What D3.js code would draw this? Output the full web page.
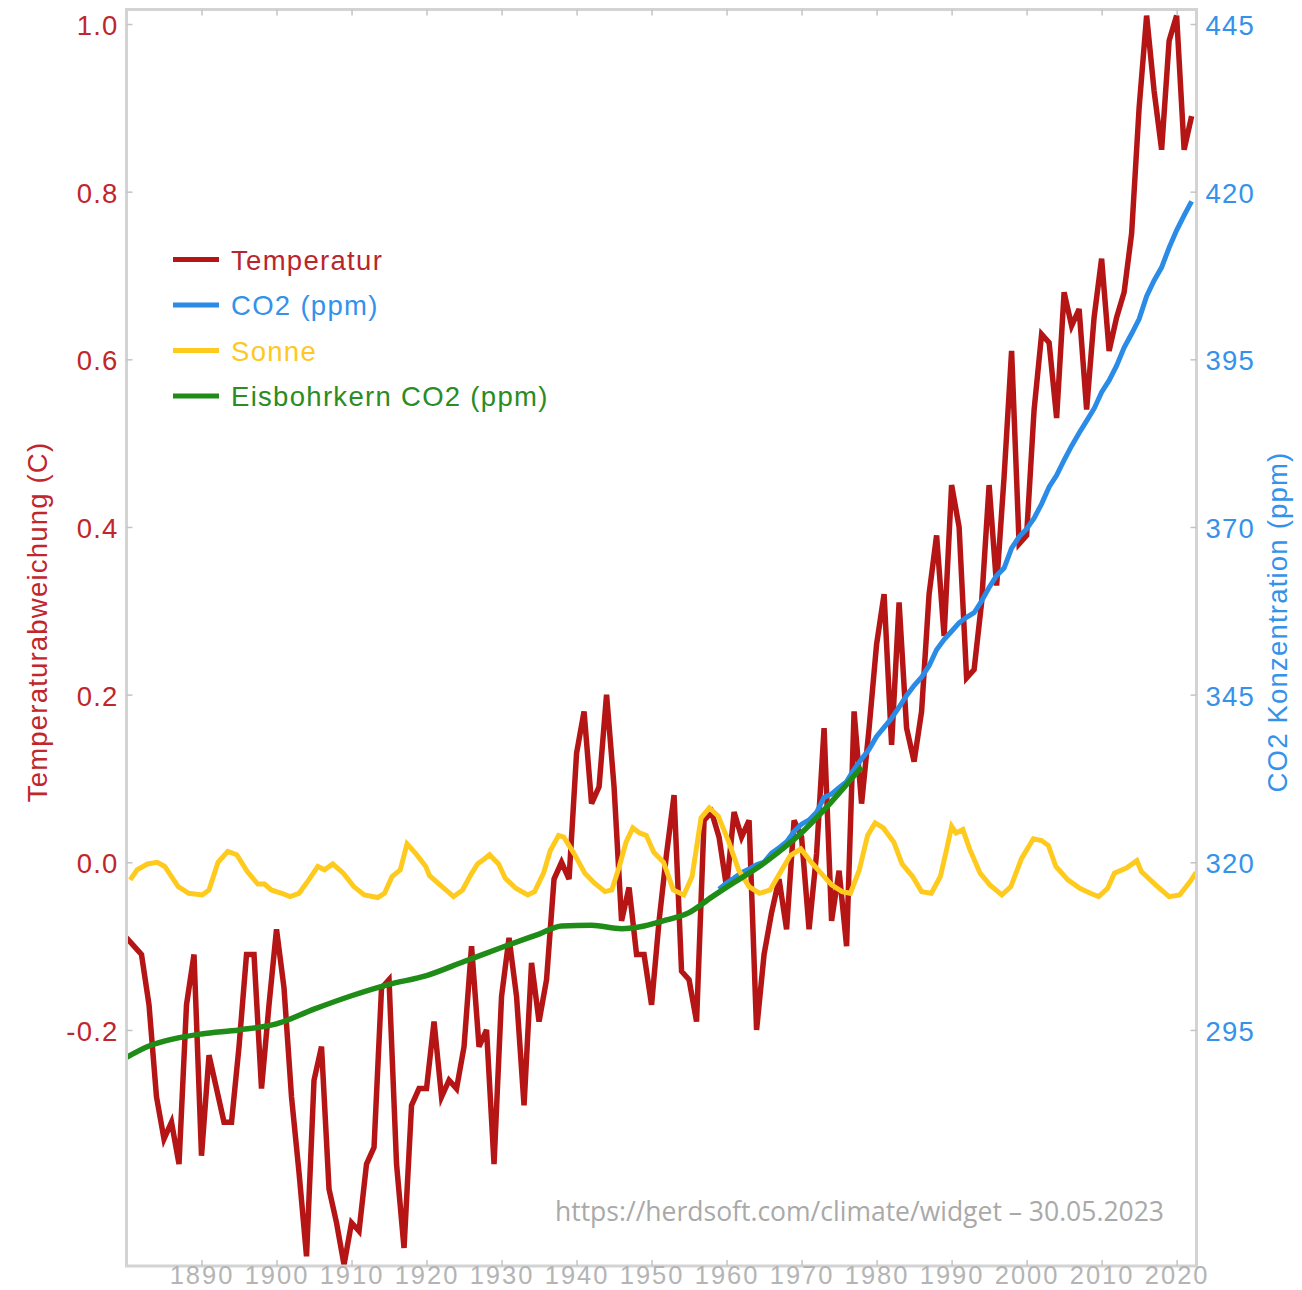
<!DOCTYPE html>
<html>
<head>
<meta charset="utf-8">
<script src="https://cdn.jsdelivr.net/npm/d3@7"></script>
<style>
  html, body { margin: 0; padding: 0; background: #fff; }
  svg { display: block; }
  text { font-family: "Liberation Sans", Arial, Helvetica, sans-serif; }
</style>
</head>
<body>
<svg id="chart" width="1302" height="1290"></svg>
<script>
// ---------------- DATA ----------------
const tempStartYear = 1880;
const temperature = [
  -0.09,-0.10,-0.11,-0.17,-0.28,-0.33,-0.31,-0.36,-0.17,-0.11,
  -0.35,-0.23,-0.27,-0.31,-0.31,-0.22,-0.11,-0.11,-0.27,-0.17,
  -0.08,-0.15,-0.28,-0.37,-0.47,-0.26,-0.22,-0.39,-0.43,-0.48,
  -0.43,-0.44,-0.36,-0.34,-0.15,-0.14,-0.36,-0.46,-0.29,-0.27,
  -0.27,-0.19,-0.28,-0.26,-0.27,-0.22,-0.10,-0.22,-0.20,-0.36,
  -0.16,-0.09,-0.16,-0.29,-0.12,-0.19,-0.14,-0.02,-0.00,-0.02,
   0.13, 0.18, 0.07, 0.09, 0.20, 0.09,-0.07,-0.03,-0.11,-0.11,
  -0.17,-0.07, 0.01, 0.08,-0.13,-0.14,-0.19, 0.05, 0.06, 0.03,
  -0.03, 0.06, 0.03, 0.05,-0.20,-0.11,-0.06,-0.02,-0.08, 0.05,
   0.03,-0.08, 0.01, 0.16,-0.07,-0.01,-0.10, 0.18, 0.07, 0.16,
   0.26, 0.32, 0.14, 0.31, 0.16, 0.12, 0.18, 0.32, 0.39, 0.27,
   0.45, 0.40, 0.22, 0.23, 0.31, 0.45, 0.33, 0.46, 0.61, 0.38,
   0.39, 0.54, 0.63, 0.62, 0.53, 0.68, 0.64, 0.66, 0.54, 0.65,
   0.72, 0.61, 0.65, 0.68, 0.75, 0.90, 1.01, 0.92, 0.85, 0.98,
   1.01, 0.85, 0.89
];

const co2StartYear = 1959;
const co2 = [
  315.98,316.91,317.64,318.45,318.99,319.62,320.04,321.37,322.18,323.05,
  324.62,325.68,326.32,327.46,329.68,330.19,331.12,332.03,333.84,335.41,
  336.84,338.76,340.12,341.48,343.15,344.87,346.35,347.61,349.31,351.69,
  353.20,354.45,355.70,356.54,357.21,358.96,360.97,362.74,363.88,366.84,
  368.54,369.71,371.32,373.45,375.98,377.70,379.98,382.09,384.02,385.83,
  387.64,390.10,391.85,394.06,396.74,398.81,401.01,404.41,406.76,408.72,
  411.66,414.24,416.45,418.56
];

const iceYears = [1880,1883,1886,1890,1895,1900,1905,1910,1915,1920,1925,1930,1935,1938,1942,1946,1949,1952,1955,1958,1961,1964,1967,1970,1973,1976,1978];
const iceCO2   = [290.9,292.6,293.6,294.4,295.0,295.9,298.1,300.1,301.8,303.1,305.2,307.3,309.3,310.5,310.6,310.1,310.5,311.4,312.5,314.8,317.0,319.1,321.6,324.4,327.8,331.6,334.2];

// Sun activity, in the units of the left axis (no own axis)
const sunYears = [1880.5,1881.4,1882.8,1884.1,1885.1,1886.0,1886.9,1888.3,1890.1,1891.0,1892.2,1893.5,1894.7,1896.1,1897.5,1898.4,1899.3,1900.7,1901.8,1903.0,
  1904.3,1905.5,1906.4,1907.5,1908.9,1910.3,1911.7,1913.5,1914.4,1915.4,1916.5,1917.4,1918.6,1919.9,1920.4,1921.8,1923.6,1924.8,1925.9,1926.8,
  1927.7,1928.4,1929.6,1930.5,1931.9,1933.5,1934.4,1935.6,1936.5,1937.6,1938.3,1939.7,1941.1,1942.4,1943.8,1944.7,1945.7,1946.6,1947.5,1948.4,
  1949.3,1950.3,1951.6,1952.9,1954.3,1955.4,1956.6,1957.7,1958.9,1960.3,1961.6,1963.0,1964.4,1965.8,1967.1,1968.5,1969.9,1971.3,1972.6,1974.0,
  1975.4,1976.5,1977.7,1978.8,1979.8,1980.9,1982.3,1983.4,1984.8,1986.0,1987.3,1988.5,1989.4,1990.0,1990.6,1991.5,1992.4,1993.8,1995.1,1996.7,
  1997.9,1999.3,2000.9,2002.0,2002.9,2003.9,2005.5,2007.1,2008.5,2009.6,2010.8,2011.7,2013.3,2014.7,2015.3,2017.2,2019.0,2020.4,2021.8,2022.6];
const sunValues = [-0.021,-0.009,-0.002,0.000,-0.005,-0.017,-0.029,-0.037,-0.039,-0.033,0.000,0.013,0.009,-0.011,-0.026,-0.026,-0.033,-0.037,-0.041,-0.037,
  -0.021,-0.005,-0.009,-0.002,-0.013,-0.029,-0.039,-0.042,-0.037,-0.017,-0.009,0.022,0.010,-0.005,-0.016,-0.027,-0.041,-0.033,-0.015,-0.002,
  0.004,0.009,-0.002,-0.019,-0.031,-0.039,-0.035,-0.013,0.014,0.032,0.030,0.010,-0.013,-0.025,-0.035,-0.033,-0.005,0.024,0.041,0.035,
  0.032,0.012,0.000,-0.033,-0.039,-0.017,0.053,0.065,0.055,0.024,-0.009,-0.029,-0.037,-0.033,-0.013,0.008,0.016,0.000,-0.013,-0.027,
  -0.035,-0.037,-0.009,0.032,0.047,0.041,0.024,-0.002,-0.017,-0.035,-0.037,-0.017,0.018,0.043,0.035,0.039,0.016,-0.013,-0.027,-0.039,
  -0.029,0.004,0.028,0.026,0.020,-0.005,-0.021,-0.031,-0.037,-0.041,-0.031,-0.013,-0.007,0.002,-0.011,-0.027,-0.041,-0.039,-0.023,-0.012];

const leftTicks  = [-0.2, 0.0, 0.2, 0.4, 0.6, 0.8, 1.0];
const rightTicks = [295, 320, 345, 370, 395, 420, 445];
const yearTicks  = [1890,1900,1910,1920,1930,1940,1950,1960,1970,1980,1990,2000,2010,2020];

const legendLabels = ["Temperatur", "CO2 (ppm)", "Sonne", "Eisbohrkern CO2 (ppm)"];
const legendColors = ["#b51515", "#2a8ce6", "#ffca1e", "#1f8c17"];
const legendTextColors = ["#b8262b", "#3392ea", "#ffc81e", "#2a8c22"];

// ---------------- LAYOUT ----------------
const plot = { left: 126.5, right: 1196.5, top: 9.5, bottom: 1266 };
const FONT = 27.5;

const svg = d3.select("#chart");

const x = d3.scaleLinear().domain([1880, 2022.65]).range([plot.left, plot.right]);
const yL = d3.scaleLinear().domain([-0.4816, 1.0173]).range([plot.bottom, plot.top]);
const yR = d3.scaleLinear().domain([320 - 0.4816 * 125, 320 + 1.0173 * 125]).range([plot.bottom, plot.top]);

svg.append("defs").append("clipPath").attr("id", "clip")
  .append("rect")
  .attr("x", plot.left).attr("y", plot.top)
  .attr("width", plot.right - plot.left).attr("height", plot.bottom - plot.top);

// watermark
svg.append("text")
  .attr("x", 1164).attr("y", 1221)
  .attr("text-anchor", "end")
  .style("font-family", "'Open Sans', sans-serif")
  .style("font-size", "26.5px")
  .attr("fill", "#a9a9a9")
  .text("https://herdsoft.com/climate/widget – 30.05.2023");

// lines
const lines = svg.append("g").attr("clip-path", "url(#clip)");
const lineGen = d3.line().x(d => x(d[0])).y(d => d[1]);

const tempData = temperature.map((v, i) => [tempStartYear + i, yL(v)]);
const co2Data = co2.map((v, i) => [co2StartYear + i, yR(v)]);
const iceData = iceYears.map((yr, i) => [yr, yR(iceCO2[i])]);
const sunData = sunYears.map((yr, i) => [yr, yL(sunValues[i])]);

function drawLine(data, color, width, curve) {
  lines.append("path")
    .datum(data)
    .attr("fill", "none")
    .attr("stroke", color)
    .attr("stroke-width", width)
    .attr("stroke-linejoin", "miter")
    .attr("d", lineGen.curve(curve || d3.curveLinear));
}
drawLine(tempData, legendColors[0], 5.5);
drawLine(co2Data, legendColors[1], 5);
drawLine(sunData, legendColors[2], 5);
drawLine(iceData, legendColors[3], 5.5, d3.curveMonotoneX);

// frame
svg.append("rect")
  .attr("x", plot.left).attr("y", plot.top)
  .attr("width", plot.right - plot.left).attr("height", plot.bottom - plot.top)
  .attr("fill", "none").attr("stroke", "#d3d3d3").attr("stroke-width", 3);

// axes
function styleAxis(g, color, size, spacing) {
  g.select(".domain").remove();
  g.selectAll(".tick line").attr("stroke", "#c4c4c4").attr("stroke-width", 1.5);
  g.selectAll(".tick text")
    .attr("fill", color)
    .style("font-size", (size || FONT) + "px")
    .style("letter-spacing", (spacing || 1.2) + "px");
}

svg.append("g")
  .attr("transform", `translate(${plot.left},0)`)
  .call(d3.axisLeft(yL).tickValues(leftTicks).tickFormat(d => d.toFixed(1))
        .tickSizeInner(-6).tickSizeOuter(0).tickPadding(8))
  .call(g => styleAxis(g, "#c0262c"))
  .call(g => g.selectAll(".tick text").attr("dy", "0.38em"));

svg.append("g")
  .attr("transform", `translate(${plot.right},0)`)
  .call(d3.axisRight(yR).tickValues(rightTicks).tickFormat(d3.format("d"))
        .tickSizeInner(-6).tickSizeOuter(0).tickPadding(9))
  .call(g => styleAxis(g, "#3592ea"))
  .call(g => g.selectAll(".tick text").attr("dy", "0.38em"));

svg.append("g")
  .attr("transform", `translate(0,${plot.bottom})`)
  .call(d3.axisBottom(x).tickValues(yearTicks).tickFormat(d3.format("d"))
        .tickSizeInner(-6).tickSizeOuter(0).tickPadding(0))
  .call(g => styleAxis(g, "#b4b4b4", 25.5, 2));

svg.append("g")
  .attr("transform", `translate(0,${plot.top})`)
  .call(d3.axisTop(x).tickValues(yearTicks).tickFormat("")
        .tickSizeInner(-6).tickSizeOuter(0))
  .call(g => styleAxis(g, "#b4b4b4"));

// axis titles
svg.append("text")
  .attr("transform", "translate(47,622) rotate(-90)")
  .attr("text-anchor", "middle")
  .attr("fill", "#c0262c")
  .style("font-size", FONT + "px")
  .style("letter-spacing", "1.2px")
  .text("Temperaturabweichung (C)");

svg.append("text")
  .attr("transform", "translate(1287,622) rotate(-90)")
  .attr("text-anchor", "middle")
  .attr("fill", "#3592ea")
  .style("font-size", FONT + "px")
  .style("letter-spacing", "1.2px")
  .text("CO2 Konzentration (ppm)");

// legend
const legend = svg.append("g");
const legendY0 = 259.5, legendStep = 45.5;
legendLabels.forEach((lab, i) => {
  const yy = legendY0 + i * legendStep;
  legend.append("line")
    .attr("x1", 173).attr("x2", 219).attr("y1", yy).attr("y2", yy)
    .attr("stroke", legendColors[i]).attr("stroke-width", 5);
  legend.append("text")
    .attr("x", 231).attr("y", yy + 10)
    .attr("fill", legendTextColors[i])
    .style("font-size", FONT + "px")
    .style("letter-spacing", "1.3px")
    .text(lab);
});
</script>
</body>
</html>
